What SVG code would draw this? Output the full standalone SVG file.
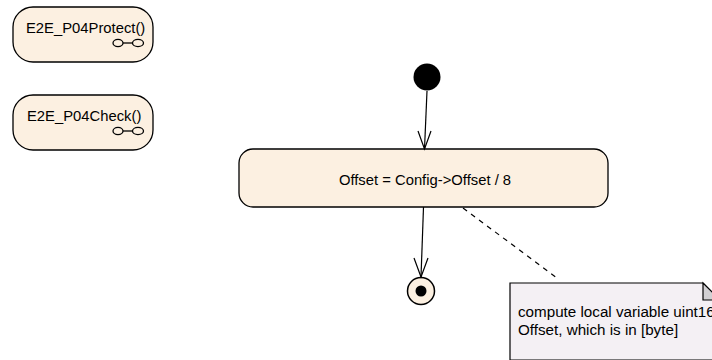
<svg xmlns="http://www.w3.org/2000/svg" width="712" height="360" viewBox="0 0 712 360">
<defs>
<style>
.node{fill:#FCF0E1;stroke:#000;stroke-width:1.3}
.lbl{font-family:"Liberation Sans",Arial,sans-serif;font-size:14.8px;fill:#000}
.ntxt{font-family:"Liberation Sans",Arial,sans-serif;font-size:15.2px;fill:#000}
.ico{fill:none;stroke:#000;stroke-width:1.3}
.edge{fill:none;stroke:#000;stroke-width:1.2}
.dash{fill:none;stroke:#000;stroke-width:1.2;stroke-dasharray:5,5}
</style>
</defs>
<rect x="0" y="0" width="712" height="360" fill="#fff"/>
<g id="protect">
<rect class="node" x="13" y="7" width="140" height="55" rx="20" ry="20"/>
<text class="lbl" x="26" y="33">E2E_P04Protect()</text>
<ellipse class="ico" cx="118" cy="43" rx="5" ry="3.6"/>
<ellipse class="ico" cx="138" cy="43" rx="5.5" ry="3.6"/>
<line class="ico" x1="123" y1="43" x2="132.5" y2="43"/>
</g>
<g id="check">
<rect class="node" x="13" y="95" width="140" height="55" rx="20" ry="20"/>
<text class="lbl" x="27" y="121">E2E_P04Check()</text>
<ellipse class="ico" cx="118" cy="131" rx="5" ry="3.6"/>
<ellipse class="ico" cx="138" cy="131" rx="5.5" ry="3.6"/>
<line class="ico" x1="123" y1="131" x2="132.5" y2="131"/>
</g>
<g id="initial">
<circle cx="427" cy="77" r="13.5" fill="#000"/>
</g>
<g id="offset">
<rect class="node" x="239" y="149" width="369" height="58" rx="14" ry="14"/>
<text class="lbl" x="425" y="185" text-anchor="middle">Offset = Config-&gt;Offset / 8</text>
</g>
<g id="final">
<circle cx="421" cy="291" r="13.5" fill="#FCF0E1" stroke="#000" stroke-width="1.5"/>
<circle cx="421" cy="291" r="5.5" fill="#000"/>
</g>
<g id="note">
<path d="M510,283 L703,283 L720,300 L720,360 L510,360 Z" fill="#F4F0F4" stroke="#000" stroke-width="1.2"/>
<path d="M703,283 L703,300 L720,300 Z" fill="#D2D0D3" stroke="#000" stroke-width="1.2"/>
<text class="ntxt" x="518" y="317">compute local variable uint16</text>
<text class="ntxt" x="518" y="335">Offset, which is in [byte]</text>
</g>
<g id="connectors">
<line class="edge" x1="427" y1="91" x2="424.5" y2="149"/>
<polyline class="edge" points="418,131 424.5,149 431,131"/>
<line class="edge" x1="423.5" y1="207" x2="421" y2="277"/>
<polyline class="edge" points="414,258 421,277 428,258"/>
<line class="dash" x1="463" y1="208" x2="557" y2="278"/>
</g>
</svg>
